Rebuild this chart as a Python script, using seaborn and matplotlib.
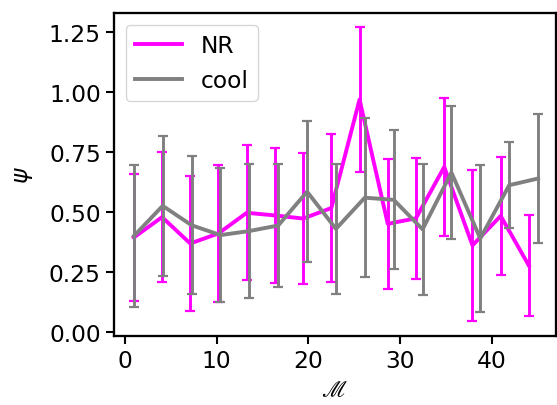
import matplotlib
matplotlib.use("Agg")
import matplotlib.pyplot as plt
import seaborn as sns

# ---- data ----
nr_x = [1.0, 4.07, 7.14, 10.21, 13.29, 16.36, 19.43, 22.5, 25.57, 28.64, 31.71, 34.79, 37.86, 40.93, 44.0]
nr_y = [0.394, 0.479, 0.369, 0.411, 0.497, 0.486, 0.473, 0.517, 0.969, 0.451, 0.474, 0.688, 0.361, 0.484, 0.277]
nr_err = [0.266, 0.271, 0.281, 0.286, 0.282, 0.282, 0.273, 0.309, 0.302, 0.270, 0.252, 0.288, 0.315, 0.245, 0.210]

cool_x = [1.0, 4.14, 7.29, 10.43, 13.57, 16.71, 19.86, 23.0, 26.14, 29.29, 32.43, 35.57, 38.71, 41.86, 45.0]
cool_y = [0.400, 0.526, 0.445, 0.404, 0.421, 0.444, 0.585, 0.430, 0.560, 0.551, 0.428, 0.665, 0.390, 0.612, 0.640]
cool_err = [0.296, 0.293, 0.287, 0.279, 0.280, 0.257, 0.293, 0.271, 0.331, 0.290, 0.273, 0.277, 0.307, 0.180, 0.270]

x_ticks = [0, 10, 20, 30, 40]
y_ticks = [0.00, 0.25, 0.50, 0.75, 1.00, 1.25]

FS = 16.8
plt.rcParams.update({
    "font.family": ["DejaVu Sans"],
    "font.size": FS,
    "axes.linewidth": 1.65,
    "xtick.major.size": 6,
    "ytick.major.size": 6,
    "xtick.major.width": 1.5,
    "ytick.major.width": 1.5,
    "xtick.labelsize": FS,
    "ytick.labelsize": FS,
    "legend.fontsize": FS,
    "axes.labelsize": FS,
})

fig = plt.figure(figsize=(5.57, 4.06), dpi=100)
ax = fig.add_axes([114 / 557, 1 - 337 / 406, (555.5 - 114) / 557, (337 - 14) / 406])

LW = 2.8
EW = 2.1
CAP = 3.6
CT = 1.6

ax.errorbar(nr_x, nr_y, yerr=nr_err, fmt="none", ecolor="magenta",
            elinewidth=EW, capsize=CAP, capthick=CT)
sns.lineplot(x=nr_x, y=nr_y, color="magenta", lw=LW, label="NR", ax=ax)
ax.errorbar(cool_x, cool_y, yerr=cool_err, fmt="none", ecolor="gray",
            elinewidth=EW, capsize=CAP, capthick=CT)
sns.lineplot(x=cool_x, y=cool_y, color="gray", lw=LW, label="cool", ax=ax)

ax.set_xlim(-1.16, 46.9)
ax.set_ylim(-0.0167, 1.33)
ax.set_xticks(x_ticks)
ax.set_yticks(y_ticks)
ax.set_yticklabels([f"{v:.2f}" for v in y_ticks])
ax.set_xlabel(r"$\mathscr{M}$")
ax.set_ylabel(r"$\psi$", labelpad=10)
ax.legend(loc="upper left")

fig.savefig("out.png", dpi=100)
